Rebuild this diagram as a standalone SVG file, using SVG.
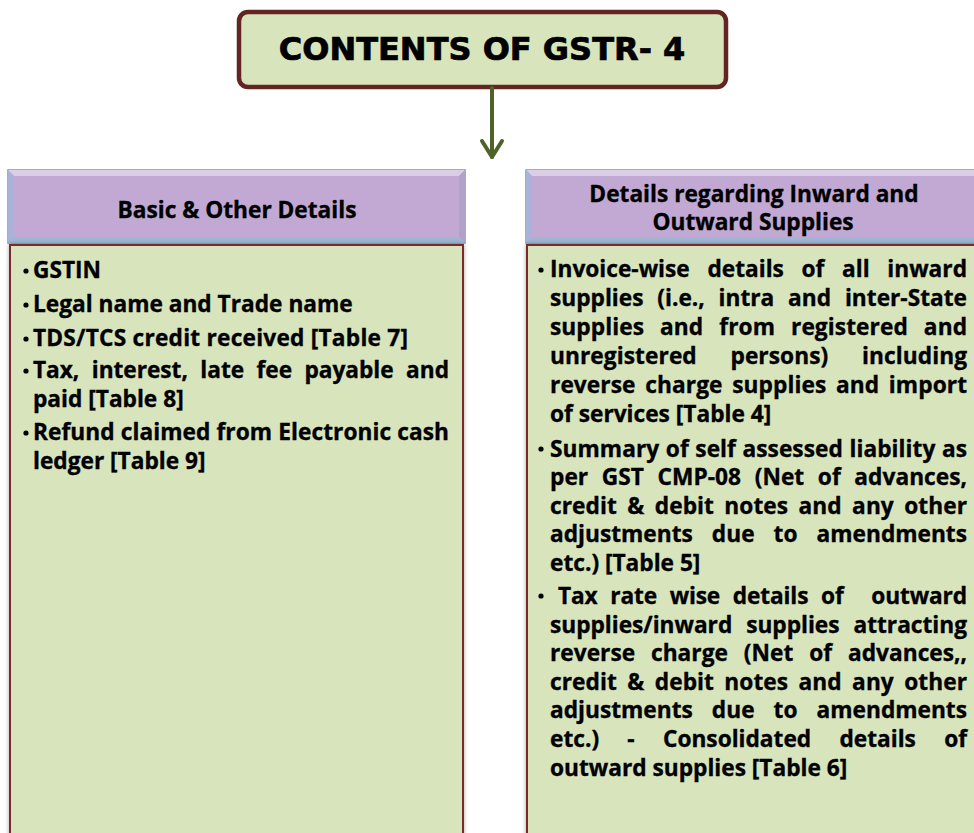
<svg xmlns="http://www.w3.org/2000/svg" width="974" height="833" viewBox="0 0 974 833">
  <style>
    .title { font-family: "DejaVu Sans", Verdana, sans-serif; font-weight: bold; font-size: 32px; fill: #000; stroke: #000; stroke-width: 0.7px; }
    .head { font-family: "Open Sans", "Noto Sans", sans-serif; font-weight: bold; font-size: 22.7px; fill: #000; stroke: #000; stroke-width: 0.35px; text-anchor: middle; }
    .body { font-family: "Open Sans", "Noto Sans", sans-serif; font-weight: bold; font-size: 22.7px; fill: #000; stroke: #000; stroke-width: 0.35px; }
    .bodybox { fill: #d8e4bc; stroke: #7a2c2a; stroke-width: 2; filter: url(#soft); }
    .hd { fill: #c1a9d3; stroke: #4bacc6; stroke-width: 1.5; }
    .bv-top { fill: #dacfe7; }
    .bv-left { fill: #a9b3da; }
    .bv-right { fill: #b2a2c8; }
    .bv-bot { fill: #9db7d5; }
    .bullet { fill: #000; }
    .conn { stroke: #4f6228; stroke-width: 4; fill: none; stroke-linecap: round; stroke-linejoin: round; }
  </style>
  <defs>
    <filter id="soft" x="-5%" y="-5%" width="110%" height="110%">
      <feDropShadow dx="0" dy="0" stdDeviation="2" flood-color="#000" flood-opacity="0.35"/>
    </filter>
  </defs>

  <rect width="974" height="833" fill="#ffffff"/>

  <!-- Title node -->
  <g id="title">
    <rect x="239" y="12" width="487" height="75" rx="9" ry="9" fill="#d8e4bc" stroke="#632523" stroke-width="4.5"/>
    <text class="title" x="482" y="60" text-anchor="middle">CONTENTS OF GSTR- 4</text>
  </g>

  <!-- Connectors -->
  <g id="connectors">
    <line class="conn" x1="492" y1="88" x2="492" y2="157"/>
    <polyline class="conn" points="482,141 492,157 502,141"/>
  </g>

  <!-- Left panel: Basic & Other Details -->
  <g id="basic-details">
    <g id="basic-details-header">
      <rect class="hd" x="8" y="170" width="457" height="73"/>
      <polygon class="bv-top" points="8,170 465,170 459,176 14,176"/>
      <polygon class="bv-left" points="8,170 14,176 14,237 8,243"/>
      <polygon class="bv-right" points="465,170 459,176 459,237 465,243"/>
      <polygon class="bv-bot" points="8,243 14,237 459,237 465,243"/>
      <text class="head" x="237" y="218">Basic &amp; Other Details</text>
    </g>
    <g id="basic-details-body">
      <rect class="bodybox" x="10" y="245" width="453" height="600"/>
      <circle class="bullet" cx="26" cy="271" r="2.6"/>
      <circle class="bullet" cx="26" cy="305" r="2.6"/>
      <circle class="bullet" cx="26" cy="339" r="2.6"/>
      <circle class="bullet" cx="26" cy="371" r="2.6"/>
      <circle class="bullet" cx="26" cy="433" r="2.6"/>
      <text class="body" x="33" y="278">GSTIN</text>
      <text class="body" x="33" y="312">Legal name and Trade name</text>
      <text class="body" x="33" y="346" textLength="375" lengthAdjust="spacing">TDS/TCS credit received [Table 7]</text>
      <text class="body" x="33" y="378" style="word-spacing:6.6px" textLength="416" lengthAdjust="spacing">Tax, interest, late fee payable and</text>
      <text class="body" x="33" y="407">paid [Table 8]</text>
      <text class="body" x="33" y="440" style="word-spacing:0.2px" textLength="416" lengthAdjust="spacing">Refund claimed from Electronic cash</text>
      <text class="body" x="33" y="469">ledger [Table 9]</text>
    </g>
  </g>

  <!-- Right panel: Details regarding Inward and Outward Supplies -->
  <g id="supplies-details">
    <g id="supplies-details-header">
      <rect class="hd" x="526" y="170" width="460" height="73"/>
      <polygon class="bv-top" points="526,170 986,170 980,176 532,176"/>
      <polygon class="bv-left" points="526,170 532,176 532,237 526,243"/>
      <polygon class="bv-bot" points="526,243 532,237 980,237 986,243"/>
      <text class="head" x="754" y="202">Details regarding Inward and</text>
      <text class="head" x="753" y="230">Outward Supplies</text>
    </g>
    <g id="supplies-details-body">
      <rect class="bodybox" x="527" y="245" width="460" height="600"/>
      <circle class="bullet" cx="541" cy="270" r="2.6"/>
      <circle class="bullet" cx="541" cy="449" r="2.6"/>
      <circle class="bullet" cx="541" cy="596" r="2.6"/>

      <text class="body" x="550" y="277" style="word-spacing:11.8px" textLength="417" lengthAdjust="spacing">Invoice-wise details of all inward</text>
      <text class="body" x="550" y="306" style="word-spacing:7.9px" textLength="417" lengthAdjust="spacing">supplies (i.e., intra and inter-State</text>
      <text class="body" x="550" y="335" style="word-spacing:10px" textLength="417" lengthAdjust="spacing">supplies and from registered and</text>
      <text class="body" x="550" y="363.5" style="word-spacing:27.7px" textLength="417" lengthAdjust="spacing">unregistered persons) including</text>
      <text class="body" x="550" y="392.5" style="word-spacing:3.7px" textLength="417" lengthAdjust="spacing">reverse charge supplies and import</text>
      <text class="body" x="550" y="421.5">of services [Table 4]</text>

      <text class="body" x="550" y="456.5" style="word-spacing:0.6px" textLength="417" lengthAdjust="spacing">Summary of self assessed liability as</text>
      <text class="body" x="550" y="485" style="word-spacing:7.7px" textLength="417" lengthAdjust="spacing">per GST CMP-08 (Net of advances,</text>
      <text class="body" x="550" y="513.5" style="word-spacing:4.4px" textLength="417" lengthAdjust="spacing">credit &amp; debit notes and any other</text>
      <text class="body" x="550" y="542" style="word-spacing:13.2px" textLength="417" lengthAdjust="spacing">adjustments due to amendments</text>
      <text class="body" x="550" y="570.5">etc.) [Table 5]</text>

      <text class="body" x="558" y="603.5" textLength="409" lengthAdjust="spacing"><tspan style="word-spacing:7px">Tax rate wise details of</tspan><tspan style="word-spacing:22px"> outward</tspan></text>
      <text class="body" x="550" y="632.5" style="word-spacing:8.1px" textLength="417" lengthAdjust="spacing">supplies/inward supplies attracting</text>
      <text class="body" x="550" y="661" style="word-spacing:10px" textLength="417" lengthAdjust="spacing">reverse charge (Net of advances,,</text>
      <text class="body" x="550" y="689.5" style="word-spacing:4.4px" textLength="417" lengthAdjust="spacing">credit &amp; debit notes and any other</text>
      <text class="body" x="550" y="718" style="word-spacing:13.2px" textLength="417" lengthAdjust="spacing">adjustments due to amendments</text>
      <text class="body" x="550" y="747" style="word-spacing:22.4px" textLength="417" lengthAdjust="spacing">etc.) - Consolidated details of</text>
      <text class="body" x="550" y="775.5">outward supplies [Table 6]</text>
    </g>
  </g>
</svg>
